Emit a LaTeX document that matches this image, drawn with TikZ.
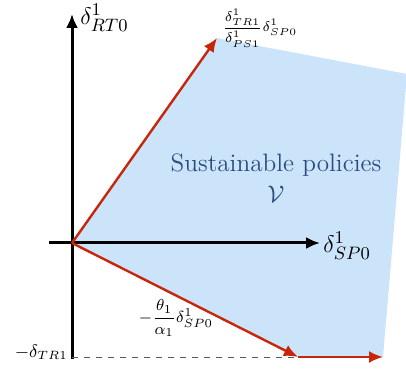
\documentclass[tikz,border=0pt]{standalone}
\usepackage{amsmath}
\usetikzlibrary{positioning,calc,arrows.meta}
\definecolor{Policy}{HTML}{CCE4FA}
\definecolor{Path}{HTML}{C8260A}
\definecolor{Ink}{HTML}{2B4C7E}
\tikzset{
  axis line/.style={-{Latex[length=7pt,width=6pt]},line width=1.5pt,draw=black},
  path arrow/.style={-{Latex[length=7pt,width=6pt]},line width=1.2pt,draw=Path},
  region fill/.style={fill=Policy,draw=none},
  axis label/.style={font=\fontsize{13}{15}\selectfont,inner sep=1pt},
  bound label/.style={font=\footnotesize,inner sep=1pt}
}
\begin{document}
\begin{tikzpicture}[x=0.5pt,y=-0.5pt]
  \useasboundingbox (0,0) rectangle (406,373);
  \coordinate (origin) at (72,243);
  \coordinate (up) at (217,38);
  \coordinate (down) at (298,357);
  \coordinate (right) at (383,357);
  \coordinate (corner) at (407,74);
  \fill[region fill] (origin) -- (up) -- (corner) -- (right) -- (down) -- cycle;
  \node[text=Ink,font=\fontsize{12.6}{15.5}\selectfont,align=center] (policies) at (276,178) {Sustainable policies\\$\mathcal{V}$};
  % axes
  \coordinate (ybot) at (72,359);
  \coordinate (ytop) at (72,14);
  \coordinate (xleft) at (49,243);
  \coordinate (xright) at (320,243);
  \draw[axis line] (ybot) -- (ytop);
  \draw[axis line] (xleft) -- (xright);
  \node[axis label,anchor=west] (rt) at (78,18) {$\delta^1_{RT0}$};
  \node[axis label,anchor=west] (sp) at (321,246) {$\delta^1_{SP0}$};
  % floor
  \coordinate (floor) at (72,357);
  \draw[dashed,gray!70!black,thin] (floor) -- (down);
  \node[font=\small,anchor=east,inner sep=1pt] (tr) at (70,352) {$-\delta_{TR1}$};
  % boundary of the set
  \draw[path arrow] (origin) -- (up);
  \draw[path arrow] (origin) -- (down);
  \draw[path arrow] (down) -- (right);
  \node[bound label,font=\fontsize{7.5}{9}\selectfont,anchor=west] (slopeup) at (220,28) {$\dfrac{\delta^1_{TR1}}{\delta^1_{PS1}}\delta^1_{SP0}$};
  \node[bound label] (slopedown) at (176,318) {$-\dfrac{\theta_1}{\alpha_1}\delta^1_{SP0}$};
\end{tikzpicture}
\end{document}
